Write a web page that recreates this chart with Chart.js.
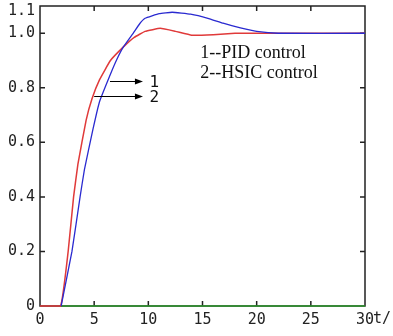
<!DOCTYPE html>
<html>
<head>
<meta charset="utf-8">
<script src="https://cdn.jsdelivr.net/npm/chart.js@4"></script>
<style>
  body { margin: 0; background: #fff; }
  #wrap { width: 393px; height: 336px; }
</style>
</head>
<body>
<div id="wrap"><canvas id="c"></canvas></div>
<script>
// PID control (curve 1)
const pidT = [1.95, 2.95, 3.7, 4.1, 4.9, 5.5, 6.5, 7.1, 7.7, 8.6, 9.2, 9.7, 11, 12.2, 13.9, 15.5, 16.9, 18.5, 20, 22, 30];
const pidV = [0, 0.2, 0.4, 0.5, 0.65, 0.75, 0.85, 0.905, 0.95, 1.0, 1.035, 1.055, 1.072, 1.077, 1.07, 1.055, 1.037, 1.02, 1.007, 1.0, 1.0];
// HSIC control (curve 2)
const hsicT = [0, 1.9, 2.6, 3.1, 3.5, 4.25, 4.8, 5.5, 6.5, 7.7, 8.7, 9.7, 11.1, 12.5, 14, 16, 18, 20, 30];
const hsicV = [0, 0, 0.2, 0.4, 0.52, 0.68, 0.76, 0.83, 0.9, 0.95, 0.985, 1.007, 1.018, 1.007, 0.993, 0.995, 1.0, 1.0, 1.0];
// zero line
const baseT = [1.9, 30];
const baseV = [0, 0];

const xTicks = [0, 5, 10, 15, 20, 25, 30];
const yTicks = [0, 0.2, 0.4, 0.6, 0.8, 1.0, 1.1];
// top label (1.1) is drawn by the plugin, a bit below its tick like the original
const yLabels = ['0', '0.2', '0.4', '0.6', '0.8', '1.0', ''];
const topLabel = '1.1';

function pts(t, v) {
    return t.map(function (x, i) { return { x: x, y: v[i] }; });
}

// frame with inward ticks, under the curves
const frame = {
    id: 'frame',
    beforeDatasetsDraw: function (chart) {
        const ctx = chart.ctx;
        const a = chart.chartArea;
        const xs = chart.scales.x, ys = chart.scales.y;
        const L = Math.round(a.left), R = Math.round(a.right);
        const T = Math.round(a.top), B = Math.round(a.bottom);
        ctx.save();
        ctx.strokeStyle = '#222';
        ctx.lineWidth = 1.5;
        ctx.beginPath();
        ctx.rect(L, T, R - L, B - T);
        xTicks.forEach(function (t) {
            const px = xs.getPixelForValue(t);
            ctx.moveTo(px, B); ctx.lineTo(px, B - 5);
            ctx.moveTo(px, T); ctx.lineTo(px, T + 5);
        });
        yTicks.forEach(function (v) {
            const py = ys.getPixelForValue(v);
            ctx.moveTo(L, py); ctx.lineTo(L + 5, py);
            ctx.moveTo(R, py); ctx.lineTo(R - 5, py);
        });
        ctx.stroke();
        ctx.restore();
    },
    afterDraw: function (chart) {
        const ctx = chart.ctx;
        const a = chart.chartArea;
        const xs = chart.scales.x, ys = chart.scales.y;
        ctx.save();
        function arrow(t0, t1, v) {
            const x0 = xs.getPixelForValue(t0), x1 = xs.getPixelForValue(t1);
            const y = Math.round(ys.getPixelForValue(v)) + 0.5;
            ctx.strokeStyle = '#000';
            ctx.fillStyle = '#000';
            ctx.lineWidth = 1;
            ctx.beginPath();
            ctx.moveTo(x0, y); ctx.lineTo(x1 - 4, y);
            ctx.stroke();
            ctx.beginPath();
            ctx.moveTo(x1, y); ctx.lineTo(x1 - 8, y - 3); ctx.lineTo(x1 - 8, y + 3);
            ctx.closePath();
            ctx.fill();
        }
        arrow(6.46, 9.5, 0.825);
        arrow(5.0, 9.5, 0.77);

        ctx.fillStyle = '#111';
        ctx.textBaseline = 'middle';
        ctx.textAlign = 'left';
        ctx.font = '16px "DejaVu Sans Mono"';
        ctx.fillText('1', xs.getPixelForValue(10.1), ys.getPixelForValue(0.818));
        ctx.fillText('2', xs.getPixelForValue(10.1), ys.getPixelForValue(0.763));

        ctx.font = '18px "Liberation Serif"';
        ctx.fillText('1--PID control', xs.getPixelForValue(14.8), ys.getPixelForValue(0.928));
        ctx.fillText('2--HSIC control', xs.getPixelForValue(14.8), ys.getPixelForValue(0.853));

        ctx.font = '15px "DejaVu Sans Mono"';
        ctx.fillStyle = '#222';
        ctx.fillText('t/', a.right + 8, a.bottom + 13);
        ctx.textAlign = 'right';
        ctx.fillText(topLabel, a.left - 5, a.top + 5);
        ctx.restore();
    }
};

new Chart(document.getElementById('c'), {
    type: 'line',
    data: {
        datasets: [
            {
                label: 'PID control',
                data: pts(pidT, pidV),
                borderColor: '#2a2ad0',
                borderWidth: 1.3,
                pointRadius: 0,
                tension: 0.1,
                clip: false,
            },
            {
                label: 'HSIC control',
                data: pts(hsicT, hsicV),
                borderColor: '#e03a3a',
                borderWidth: 1.5,
                pointRadius: 0,
                tension: 0.1,
                clip: false,
            },
            {
                label: 'zero',
                data: pts(baseT, baseV),
                borderColor: '#2e9a2e',
                borderWidth: 1.6,
                pointRadius: 0,
                clip: false,
            }
        ]
    },
    options: {
        responsive: true,
        maintainAspectRatio: false,
        animation: false,
        layout: {
            padding: { top: 6, right: 28, left: 0, bottom: 0 }
        },
        plugins: {
            legend: { display: false },
            tooltip: { enabled: false },
        },
        scales: {
            x: {
                type: 'linear',
                min: 0,
                max: 30,
                afterBuildTicks: function (s) { s.ticks = xTicks.map(function (v) { return { value: v }; }); },
                afterFit: function (s) { s.height = 30; s.paddingLeft = 0; s.paddingRight = 0; },
                grid: { display: false, drawTicks: false },
                border: { display: false },
                ticks: {
                    autoSkip: false,
                    maxRotation: 0,
                    padding: 5,
                    color: '#222',
                    font: { family: 'DejaVu Sans Mono', size: 15 },
                }
            },
            y: {
                type: 'linear',
                min: 0,
                max: 1.1,
                afterBuildTicks: function (s) { s.ticks = yTicks.map(function (v) { return { value: v }; }); },
                afterFit: function (s) { s.width = 40; s.paddingTop = 0; s.paddingBottom = 0; },
                grid: { display: false, drawTicks: false },
                border: { display: false },
                ticks: {
                    autoSkip: false,
                    padding: 5,
                    color: '#222',
                    font: { family: 'DejaVu Sans Mono', size: 15 },
                    callback: function (v, i) { return yLabels[i]; }
                }
            }
        }
    },
    plugins: [frame]
});
</script>
</body>
</html>
